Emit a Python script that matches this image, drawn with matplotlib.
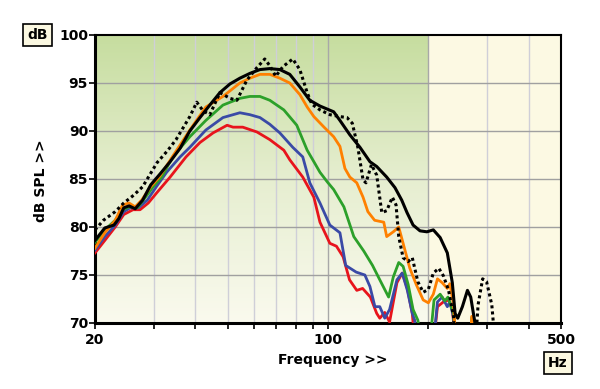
import matplotlib.pyplot as plt
import numpy as np
from matplotlib.colors import LinearSegmentedColormap

# frequency (Hz) / level (dB) pairs
black_f = [20, 21.4, 22.8, 23.6, 24.4, 25.3, 26.4, 27.8, 29.4, 31.3, 33.6, 36.0, 38.5, 41.3, 44.2,
           47.4, 50.8, 54.4, 58.3, 62.5, 66.9, 71.7, 76.8, 82.3, 88.2, 94.6, 104, 108.6, 116.3,
           124.7, 133.6, 140, 150, 158.8, 166.4, 172.6, 180, 188.8, 198, 207, 217, 228, 236,
           240.6, 245, 253, 262, 268, 276, 280]
black_db = [78.6, 79.9, 80.2, 80.9, 82.0, 82.2, 81.9, 82.8, 84.4, 85.5, 86.8, 88.2, 90.0, 91.4, 92.7,
            94.0, 94.9, 95.5, 96.0, 96.4, 96.5, 96.4, 95.9, 94.6, 93.2, 92.6, 92.0, 91.1, 89.6,
            88.3, 86.8, 86.3, 85.2, 84.1, 82.8, 81.5, 80.2, 79.6, 79.5, 79.7, 78.9, 77.3, 74.2,
            71.0, 70.5, 71.7, 73.4, 72.7, 70.0, 68.0]

dotted_f = [20, 21.2, 23.0, 24.4, 26.1, 27.8, 30.7, 33.1, 35.0, 38.5, 40.4, 42.2, 44.2, 47.4, 50.8,
            53.3, 57.1, 61.2, 64.6, 66.9, 69.7, 73.2, 78.4, 82.3, 86.6, 89.4, 94.6, 101.3, 108.6,
            114, 118.3, 122.9, 127.4, 130, 135, 140, 145, 150, 156, 160, 163, 168, 174, 179, 186,
            193, 200, 207, 215, 222, 230, 238, 241, 276, 282, 291, 299, 310, 317]
dotted_db = [79.7, 80.7, 81.6, 82.5, 83.3, 84.2, 86.7, 88.0, 89.1, 91.5, 93.0, 92.1, 91.7, 94.0, 93.4,
             93.2, 95.3, 96.6, 97.5, 96.8, 95.7, 96.7, 97.5, 96.4, 94.0, 92.8, 92.2, 91.7, 91.5,
             91.4, 90.8, 88.3, 84.9, 84.6, 86.5, 85.4, 81.5, 81.7, 83.1, 82.3, 79.0, 76.8, 76.4,
             76.8, 74.3, 73.2, 73.5, 75.2, 75.7, 74.9, 73.4, 70.7, 67.0, 67.0, 71.9, 74.6, 74.3,
             71.9, 68.0]

orange_f = [20, 21.4, 23.0, 24.2, 25.3, 26.4, 27.6, 29.4, 31.3, 34.7, 38.5, 43.0, 48.4, 54.4, 58.3,
            62.5, 66.9, 71.7, 76.8, 82.3, 86.6, 90.7, 97.3, 104, 108.6, 112.4, 116.3, 122, 127.4,
            131.7, 138, 147, 150, 157, 163, 168, 176, 184, 193, 200, 207, 213, 220, 228, 232, 238,
            243, 266, 270, 276]
orange_db = [77.8, 79.4, 80.7, 82.3, 82.5, 82.1, 82.8, 84.2, 85.3, 87.7, 90.1, 92.5, 93.6, 95.0, 95.5,
             95.9, 95.9, 95.5, 95.0, 93.8, 92.5, 91.5, 90.4, 89.4, 88.4, 86.1, 85.2, 84.6, 83.1,
             81.6, 80.7, 80.5, 79.0, 79.5, 80.0, 78.3, 75.7, 74.0, 72.4, 72.1, 73.0, 74.6, 74.2,
             73.6, 74.1, 71.9, 67.0, 67.0, 70.7, 67.0]

green_f = [20, 21.4, 23.0, 24.2, 25.3, 26.8, 28.2, 29.9, 31.7, 34.2, 38.5, 43.0, 48.4, 54.4, 58.3,
           62.5, 66.9, 73.7, 80.6, 84.0, 86.6, 90.7, 94.6, 99.5, 104, 111.6, 119.5, 128, 136, 143,
           152, 157, 163, 168, 174, 180, 186, 192, 201, 208, 217, 224, 229, 238, 243, 266, 270,
           276]
green_db = [78.4, 79.7, 80.7, 81.8, 82.1, 82.0, 83.0, 84.2, 85.2, 87.3, 89.4, 91.1, 92.7, 93.4, 93.6,
            93.6, 93.2, 92.2, 90.6, 89.1, 88.0, 86.8, 85.7, 84.7, 83.9, 82.1, 79.0, 77.5, 76.0, 74.5,
            72.7, 74.8, 76.3, 75.9, 74.0, 71.4, 70.3, 67.0, 67.0, 72.4, 73.0, 72.3, 72.7, 71.0,
            67.0, 67.0, 70.6, 67.0]

blue_f = [20, 21.4, 23.0, 24.4, 25.5, 27.0, 28.7, 30.7, 32.8, 36.0, 38.5, 43.0, 48.4, 54.4, 58.3,
          62.5, 66.9, 71.7, 78.4, 84.0, 88.2, 94.6, 101.3, 108.6, 113, 121.5, 129, 133.6, 138.3,
          143, 148, 153, 161, 167, 173, 179, 182, 187, 206, 213, 220, 228, 232, 238, 243]
blue_db = [77.6, 79.0, 80.2, 81.6, 82.0, 82.0, 82.8, 84.3, 85.7, 87.3, 88.3, 90.1, 91.4, 91.9, 91.7,
           91.4, 90.7, 89.8, 88.3, 87.3, 84.6, 82.5, 80.2, 79.4, 76.0, 75.3, 75.0, 73.8, 71.7,
           71.7, 70.5, 71.4, 74.5, 75.2, 73.4, 71.0, 70.3, 67.0, 67.0, 72.2, 72.7, 71.7, 72.2,
           70.6, 67.0]

red_f = [20, 21.4, 23.0, 24.4, 26.0, 27.3, 28.9, 30.7, 33.6, 37.5, 41.3, 45.2, 49.8, 51.9, 55.5,
         61.2, 66.9, 73.7, 76.8, 84.0, 90.7, 94.6, 101.3, 106, 111, 116, 122, 127, 134, 140, 143,
         148, 153, 161, 167, 173, 179, 183, 206, 213, 222, 230, 236, 243]
red_db = [77.3, 78.6, 80.0, 81.3, 81.8, 81.8, 82.5, 83.6, 85.2, 87.3, 88.8, 89.8, 90.6, 90.4, 90.4,
          89.9, 89.1, 88.0, 87.0, 85.2, 83.1, 80.5, 78.3, 78.0, 76.9, 74.5, 73.4, 73.6, 72.7, 71.0,
          70.5, 71.1, 70.1, 74.2, 75.2, 73.6, 71.0, 67.0, 67.0, 71.7, 72.2, 72.4, 71.4, 67.0]

y_ticks = [70, 75, 80, 85, 90, 95, 100]
x_major = [20, 100, 500]
x_minor = [30, 40, 50, 60, 70, 80, 90, 200, 300, 400]

plt.rcParams['font.family'] = ['DejaVu Sans']
FS = 10

fig = plt.figure(figsize=(6, 3.89), dpi=100)
ax = fig.add_axes([95 / 600, 66 / 389, 466 / 600, 288 / 389])
ax.set_xscale('log')
ax.set_xlim(20, 500)
ax.set_ylim(70, 100)
ax.set_facecolor('#fcf9e3')

# green gradient over the 20-200 Hz band
cmap = LinearSegmentedColormap.from_list('bg', ['#fafaee', '#e6eed0', '#c6dd9f'])
grad = np.linspace(0, 1, 256).reshape(-1, 1)
x200 = np.log(200 / 20) / np.log(500 / 20)
ax.imshow(grad, cmap=cmap, origin='lower', aspect='auto',
          extent=(0, x200, 0, 1), transform=ax.transAxes, zorder=0)

for f in x_minor + [100]:
    c = '#a8a8a8' if f in (100, 200) else '#cfcfd8'
    ax.axvline(f, color=c, lw=1.0, zorder=1)
for v in y_ticks[1:-1]:
    ax.axhline(v, color='#a0a0a0', lw=1.0, zorder=1)

ax.plot(red_f, red_db, color='#e8141c', lw=2.0, zorder=3)
ax.plot(blue_f, blue_db, color='#3a4aa6', lw=2.0, zorder=3)
ax.plot(green_f, green_db, color='#2ca02a', lw=2.0, zorder=3)
ax.plot(orange_f, orange_db, color='#ff8000', lw=2.0, zorder=3)
ax.plot(black_f, black_db, color='black', lw=2.2, zorder=4)
ax.plot(dotted_f, dotted_db, color='black', lw=2.2, ls=(0, (1, 1)), zorder=5)

ax.set_xticks(x_major)
ax.set_xticklabels([str(v) for v in x_major], fontweight='bold', fontsize=FS)
ax.set_xticks(x_minor, minor=True)
ax.set_xticklabels([], minor=True)
ax.set_yticks(y_ticks)
ax.set_yticklabels([str(v) for v in y_ticks], fontweight='bold', fontsize=FS)
ax.tick_params(axis='both', which='both', direction='out', length=4, width=1.2, pad=1)
ax.tick_params(axis='x', which='major', pad=3)

for s in ax.spines.values():
    s.set_linewidth(1.5)
ax.spines['left'].set_linewidth(2.2)
ax.spines['bottom'].set_linewidth(2.2)

fig.text(333 / 600, 1 - 360 / 389, 'Frequency >>', ha='center', va='center',
         fontweight='bold', fontsize=FS)
fig.text(41 / 600, 1 - 181 / 389, 'dB SPL >>', ha='center', va='center', rotation=90,
         fontweight='bold', fontsize=FS)
box = dict(boxstyle='square,pad=0.3', fc='#fbf8e1', ec='black', lw=1.2)
fig.text(37.5 / 600, 1 - 35 / 389, 'dB', ha='center', va='center', fontweight='bold',
         fontsize=FS, bbox=box)
fig.text(558 / 600, 1 - 363 / 389, 'Hz', ha='center', va='center', fontweight='bold',
         fontsize=FS, bbox=box)

fig.savefig('out.png', dpi=100)
